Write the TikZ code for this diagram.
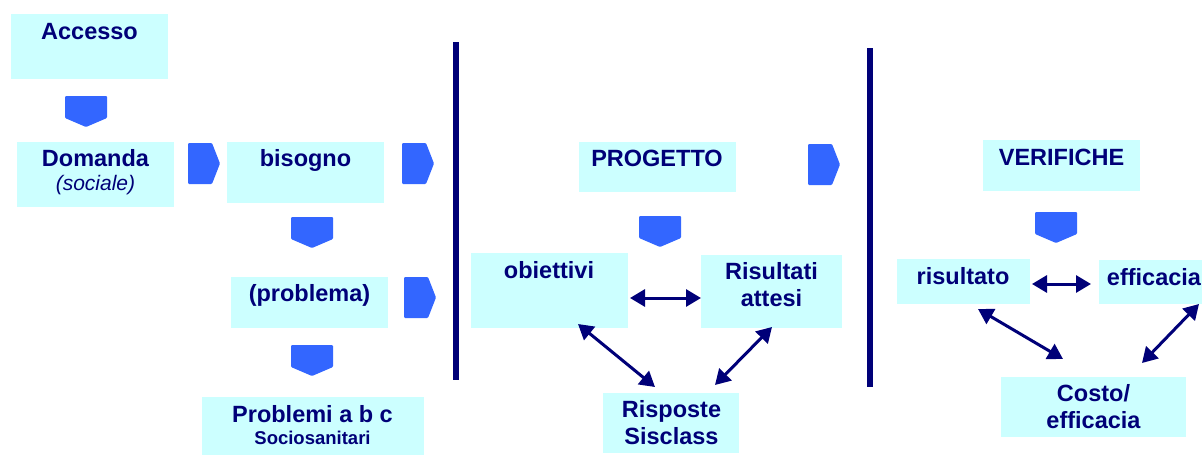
\documentclass[tikz,border=0pt]{standalone}
\usepackage{fontspec}
\setmainfont{Liberation Sans}
\usetikzlibrary{arrows.meta}
\definecolor{navy}{RGB}{0,0,120}
\definecolor{boxfill}{RGB}{204,255,255}
\definecolor{chev}{RGB}{51,102,255}
\tikzset{
  box/.style={fill=boxfill, draw=none, inner sep=0pt, rectangle},
  txt/.style={text=navy, font=\fontsize{23.5}{27}\selectfont\bfseries, anchor=base, inner sep=0pt},
  small/.style={text=navy, font=\fontsize{18.5}{22}\selectfont\bfseries, anchor=base, inner sep=0pt},
  ital/.style={text=navy, font=\fontsize{21}{25}\selectfont\itshape, anchor=base, inner sep=0pt},
  link/.style={draw=navy, line width=3pt, {Triangle[length=15pt,width=17pt]}-{Triangle[length=15pt,width=17pt]}},
  divider/.style={draw=navy, line width=6.5pt},
  downchev/.pic={\fill[chev, rounded corners=1pt] (0,0) -- (42,0) -- (42,22) -- (21,31) -- (0,22) -- cycle;},
  rightchev/.pic={\fill[chev, rounded corners=1pt] (0,0) -- (24,0) -- (32,20.5) -- (24,41) -- (0,41) -- cycle;}
}
\begin{document}
\begin{tikzpicture}[x=1pt, y=-1pt]
\useasboundingbox (0,0) rectangle (1202,455);
% boxes
\node[box, minimum width=157pt, minimum height=65pt] (acc) at (89.5,46.5) {};
\node[box, minimum width=157pt, minimum height=65pt] (dom) at (95.5,174.5) {};
\node[box, minimum width=157pt, minimum height=61pt] (bis) at (305.5,172.5) {};
\node[box, minimum width=157pt, minimum height=51pt] (pro) at (309.5,302.5) {};
\node[box, minimum width=222pt, minimum height=58pt] (pab) at (313,426) {};
\node[box, minimum width=157pt, minimum height=50pt] (prg) at (657.5,167) {};
\node[box, minimum width=157pt, minimum height=75pt] (obi) at (549.5,290.5) {};
\node[box, minimum width=141pt, minimum height=73pt] (ris) at (771.5,291.5) {};
\node[box, minimum width=136pt, minimum height=60pt] (rsp) at (671,423) {};
\node[box, minimum width=157pt, minimum height=51pt] (ver) at (1061.5,165.5) {};
\node[box, minimum width=133pt, minimum height=45pt] (rst) at (963.5,281.5) {};
\node[box, minimum width=103pt, minimum height=44pt] (eff) at (1150.5,282) {};
\node[box, minimum width=185pt, minimum height=60pt] (cst) at (1093.5,407) {};
% texts
\node[txt] (accT) at (89.5,39) {Accesso};
\node[txt] (domT) at (95.5,166) {Domanda};
\node[ital] (domS) at (95.5,190) {(sociale)};
\node[txt] (bisT) at (305.5,166) {bisogno};
\node[txt] (proT) at (309.5,301) {(problema)};
\node[txt] (pabT) at (312.5,422) {Problemi a b c};
\node[small] (pabS) at (312.5,444) {Sociosanitari};
\node[txt] (prgT) at (657,166) {PROGETTO};
\node[txt] (obiT) at (549,278) {obiettivi};
\node[txt] (risT1) at (771.5,279) {Risultati};
\node[txt] (risT2) at (771.5,306.5) {attesi};
\node[txt] (rspT1) at (671.5,417) {Risposte};
\node[txt] (rspT2) at (671.5,444) {Sisclass};
\node[txt] (verT) at (1061.5,165) {VERIFICHE};
\node[txt] (rstT) at (963,284) {risultato};
\node[txt] (effT) at (1154,285) {efficacia};
\node[txt] (cstT1) at (1093.5,401.5) {Costo/};
\node[txt] (cstT2) at (1093.5,428) {efficacia};
% dividers
\coordinate (d1t) at (456,42); \coordinate (d1b) at (456,380);
\coordinate (d2t) at (870,48); \coordinate (d2b) at (870,387);
\draw[divider] (d1t) -- (d1b);
\draw[divider] (d2t) -- (d2b);
% chevrons
\pic at (65,96) {downchev};
\pic at (291,217) {downchev};
\pic at (291,345) {downchev};
\pic at (639,216) {downchev};
\pic at (1035,212) {downchev};
\pic at (188,143) {rightchev};
\pic at (402,143) {rightchev};
\pic at (404,277) {rightchev};
\pic at (808,144) {rightchev};
% connectors
\coordinate (o1) at (630,298); \coordinate (r1) at (701,298);
\coordinate (o2) at (578,324); \coordinate (s1) at (655,387);
\coordinate (r2) at (772,327); \coordinate (s2) at (715,385);
\coordinate (t1) at (1032,284); \coordinate (e1) at (1091,284);
\coordinate (t2) at (978,309); \coordinate (c1) at (1063,359);
\coordinate (e2) at (1199,304); \coordinate (c2) at (1142,363);
\draw[link] (o1) -- (r1);
\draw[link] (o2) -- (s1);
\draw[link] (r2) -- (s2);
\draw[link] (t1) -- (e1);
\draw[link] (t2) -- (c1);
\draw[link] (e2) -- (c2);
\end{tikzpicture}
\end{document}
